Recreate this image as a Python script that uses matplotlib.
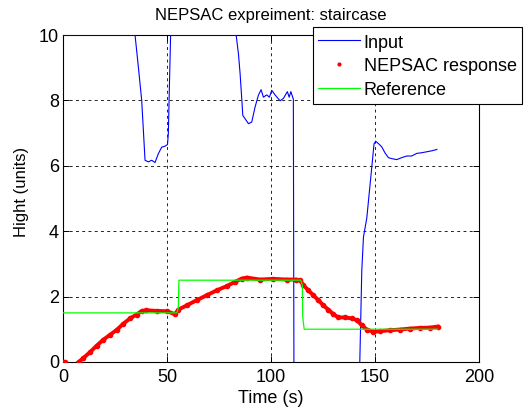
import numpy as np
import matplotlib
matplotlib.use("Agg")
import matplotlib.pyplot as plt
from matplotlib.lines import Line2D

plt.rcParams['font.family'] = ['Liberation Sans', 'DejaVu Sans']

# Input signal (clipped by the axis limits where it saturates)
input_t = [0, 34.6, 36.2, 37.8, 38.6, 39.4, 41.0, 42.6, 44.2, 45.8, 47.4, 49.0,
           50.2, 50.6, 51.1, 51.7, 83.2, 84.3, 85.1, 85.9, 86.4, 87.5, 89.1,
           90.7, 92.3, 93.9, 95.2, 96.3, 97.9, 99.2, 100.3, 101.9, 104.3, 105.9,
           107.8, 108.7, 109.5, 110.7, 111.0, 142.3, 143.6, 144.4, 146.0, 148.4,
           149.5, 150.3, 151.6, 153.2, 154.8, 156.4, 158.0, 160.4, 162.8, 165.2,
           167.6, 170.0, 172.4, 174.9, 177.3, 179.7]
input_u = [10, 10, 9.02, 8.0, 7.09, 6.17, 6.12, 6.17, 6.1, 6.37, 6.57, 6.6,
           6.65, 6.98, 8.4, 10, 10, 9.43, 8.82, 8.05, 7.54, 7.44, 7.29,
           7.34, 7.8, 8.16, 8.33, 8.1, 8.17, 8.1, 8.31, 8.17, 7.99, 8.06,
           8.27, 8.1, 8.27, 8.04, -1, -1, 2.8, 3.82, 4.4, 5.96,
           6.68, 6.75, 6.68, 6.58, 6.39, 6.25, 6.22, 6.19, 6.25, 6.3,
           6.3, 6.38, 6.4, 6.43, 6.46, 6.5]

# Measured process output
resp_t = [0, 1, 4, 7.5, 9.8, 13, 16.2, 19.4, 22.6, 25.8, 29, 32.2, 35.4, 37.8,
          40.1, 45, 49.9, 53.8, 55.4, 59.5, 64.3, 69.1, 73.9, 78.7, 82.7, 85.9,
          88.3, 94.7, 101, 107.5, 112, 113.9, 115.5, 117.9, 120.3, 122.7, 125.1,
          127.5, 129.9, 132.4, 135.6, 138.8, 141.2, 143.6, 146, 149.2, 152.4,
          157.2, 162, 166.8, 171.6, 176.4, 180]
resp_y = [0, 0, np.nan, 0, 0.12, 0.3, 0.5, 0.68, 0.83, 0.98, 1.17, 1.33, 1.45, 1.56,
          1.58, 1.56, 1.55, 1.46, 1.6, 1.73, 1.89, 2.04, 2.19, 2.32, 2.45, 2.55,
          2.58, 2.52, 2.54, 2.52, 2.52, 2.5, 2.35, 2.19, 2.04, 1.89, 1.73,
          1.6, 1.46, 1.36, 1.36, 1.33, 1.28, 1.12, 0.99, 0.92, 0.94,
          0.97, 0.99, 1.02, 1.04, 1.05, 1.08]

# Staircase setpoint
ref_t = [0, 54.7, 55.4, 55.7, 114.3, 115.0, 115.2, 115.9, 180]
ref_y = [1.5, 1.5, 1.65, 2.5, 2.5, 2.35, 1.38, 1.0, 1.0]

fig = plt.figure(figsize=(5.30, 4.08), dpi=100)
ax = fig.add_axes([0.119, 0.113, 0.785, 0.801])

ax.plot(input_t, input_u, color='blue', lw=0.8, zorder=3)
ax.plot(resp_t, resp_y, color='red', lw=2.8, marker='.', ms=6, zorder=3)
ax.plot(ref_t, ref_y, color='#00ff00', lw=0.9, zorder=4)

ax.set_xlim(0, 200)
ax.set_ylim(0, 10)
ax.set_xticks([0, 50, 100, 150, 200])
ax.set_yticks([0, 2, 4, 6, 8, 10])
ax.tick_params(direction='in', length=4, width=0.7, labelsize=13,
               top=True, right=True, pad=3)
ax.tick_params(axis='x', pad=5)
ax.grid(True, color='black', lw=0.6, linestyle=(0, (3.5, 4)))
for s in ax.spines.values():
    s.set_linewidth(0.8)

ax.set_title("NEPSAC expreiment: staircase", fontsize=12, pad=11)
ax.set_xlabel("Time (s)", fontsize=13, labelpad=3)
ax.set_ylabel("Hight (units)", fontsize=12)
ax.yaxis.set_label_coords(-0.082, 0.52)

handles = [Line2D([], [], color='blue', lw=0.8),
           Line2D([], [], color='red', ls='none', marker='.', ms=4),
           Line2D([], [], color='#00ff00', lw=0.9)]
leg = fig.legend(handles, ["Input", "NEPSAC response", "Reference"],
                 loc='upper right', bbox_to_anchor=(0.985, 0.933),
                 fontsize=13, fancybox=False, framealpha=1, edgecolor='black',
                 handlelength=2.3, handleheight=1.1, handletextpad=0.22,
                 labelspacing=0.27, borderpad=0.3, borderaxespad=0)
leg.get_frame().set_linewidth(0.8)

plt.savefig("out.png", dpi=100)
plt.close()
